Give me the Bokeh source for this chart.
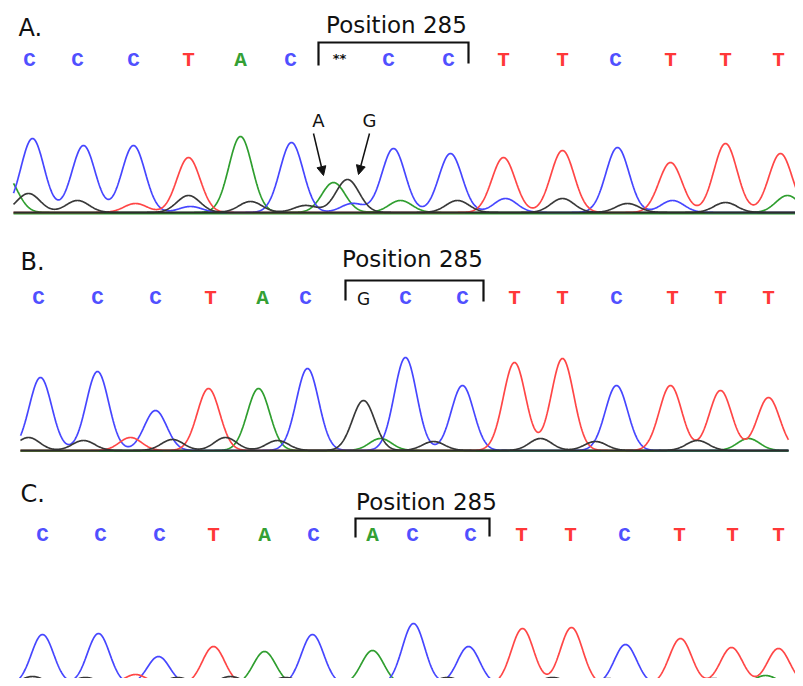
import numpy as np
from bokeh.plotting import figure
from bokeh.layouts import column
from bokeh.models import Range1d, Arrow, NormalHead, ColumnDataSource
from bokeh.core.properties import value
from bokeh.embed import file_html
from bokeh.resources import INLINE

# ---------------- data ----------------
panel_labels = ["A.", "B.", "C."]
region_title = "Position 285"

# base calls (x = scan position)
A_bases = ["C", "C", "C", "T", "A", "C", "**", "C", "C", "T", "T", "C", "T", "T", "T"]
A_base_x = [29, 77, 133, 188, 240, 290, 339, 388, 448, 503, 562, 615, 670, 725, 778]
B_bases = ["C", "C", "C", "T", "A", "C", "G", "C", "C", "T", "T", "C", "T", "T", "T"]
B_base_x = [38, 97, 155, 210, 262, 305, 363, 405, 462, 514, 562, 616, 672, 720, 768]
C_bases = ["C", "C", "C", "T", "A", "C", "A", "C", "C", "T", "T", "C", "T", "T", "T"]
C_base_x = [42, 100, 159, 213, 264, 313, 372, 412, 470, 521, 570, 624, 679, 732, 778]

# bracket around position 285: [left, right]
A_bracket_x = [318, 468]
B_bracket_x = [345, 483]
C_bracket_x = [355, 489]

# trace extent (scan range)
A_scan = [13, 803]
B_scan = [20, 788]
C_scan = [18, 803]

# peaks: centre (scan) and height (signal) per dye channel
A_C_x = [32, 83, 133, 190, 291, 352, 393, 450, 505, 617, 672]
A_C_h = [74, 67, 67, 6, 70, 9, 64, 59, 14, 65, 12]
A_T_x = [135, 188, 503, 562, 670, 725, 780]
A_T_h = [9, 55, 55, 62, 50, 69, 59]
A_A_x = [5, 240, 333, 400, 787]
A_A_h = [37, 76, 30, 12, 17]
A_G_x = [28, 77, 188, 250, 305, 347, 457, 562, 627, 725]
A_G_h = [19, 12, 17, 11, 7, 33, 12, 14, 9, 10]

B_C_x = [40, 97, 155, 307, 405, 462, 616]
B_C_h = [73, 79, 40, 82, 93, 65, 65]
B_T_x = [130, 208, 514, 562, 670, 720, 768]
B_T_h = [13, 62, 88, 92, 65, 60, 53]
B_A_x = [258, 380, 748]
B_A_h = [62, 12, 12]
B_G_x = [28, 83, 172, 225, 277, 363, 433, 540, 595, 697]
B_G_h = [13, 10, 11, 13, 10, 50, 9, 12, 9, 10]

C_C_x = [42, 98, 158, 312, 413, 468, 625]
C_C_h = [50, 51, 28, 50, 61, 38, 40]
C_T_x = [135, 213, 522, 571, 680, 731, 778]
C_T_h = [10, 38, 56, 57, 46, 37, 36]
C_A_x = [264, 372, 765]
C_A_h = [33, 34, 9]
C_G_x = [32, 85, 177, 230, 285, 447, 552, 607, 713]
C_G_h = [8, 7, 7, 8, 7, 7, 7, 6, 6]

# arrows in panel A (allele labels)
arrow_labels = ["A", "G"]
arrow_label_x = [318, 369]
arrow_x0 = [313, 369]
arrow_y0 = [79, 79]
arrow_x1 = [323, 358]
arrow_y1 = [37, 38]

# ---------------- styling ----------------
TRACE = {"C": "#4646ff", "T": "#ff4646", "A": "#2f9e2f", "G": "#383838"}
LETTER = {"C": "#5050ff", "T": "#ff3838", "A": "#34a034", "G": "#111111", "**": "#111111"}
SANS = "DejaVu Sans"
MONO = "Liberation Mono"


def trace(scan, xs, hs, sigma):
    x = np.arange(scan[0], scan[1] + 0.5, 0.5)
    y = np.zeros_like(x, dtype=float)
    for c, h in zip(xs, hs):
        y += h * np.exp(-((x - c) ** 2) / (2 * sigma ** 2))
    return x, y


def make_panel(height, yr, label, label_x, label_y, title_x, title_y, letters_y, bases, base_x,
               bracket_x, br_top, br_bot_l, br_bot_r, scan, peaks, sigma):
    p = figure(width=795, height=height, x_range=Range1d(0, 795), y_range=Range1d(*yr),
               toolbar_location=None, output_backend="svg", min_border=0)
    p.axis.visible = False
    p.grid.visible = False
    p.outline_line_color = None
    p.background_fill_color = "white"

    # green sits just under the overlapping baseline
    p.line([scan[0], scan[1]], [-1.2, -1.2], line_color=TRACE["A"], line_width=1.4)
    for dye in ["A", "C", "T", "G"]:
        xs, hs = peaks[dye]
        x, y = trace(scan, xs, hs, sigma)
        p.line(x, y, line_color=TRACE[dye], line_width=1.7)
    # dark overlapping baseline of the four channels
    p.line([scan[0], scan[1]], [0, 0], line_color="#2c2c2c", line_width=1.8)

    # panel label
    p.text(x=[label_x], y=[label_y], text=[label], text_font=value(SANS), text_font_size="24px",
           text_color="#111111", text_baseline="middle", text_align="left")
    # region title
    p.text(x=[title_x], y=[title_y], text=[region_title], text_font=value(SANS),
           text_font_size="23px", text_color="#111111", text_baseline="middle",
           text_align="center")
    # bracket
    p.line([bracket_x[0], bracket_x[0], bracket_x[1], bracket_x[1]],
           [br_bot_l, br_top, br_top, br_bot_r], line_color="#111111", line_width=2.2,
           line_join="miter")

    # base calls
    normal = [i for i, b in enumerate(bases) if b in ("A", "C", "T")]
    src = ColumnDataSource(dict(x=[base_x[i] for i in normal], y=[letters_y] * len(normal),
                                t=[bases[i] for i in normal],
                                c=[LETTER[bases[i]] for i in normal]))
    p.text(x="x", y="y", text="t", text_color="c", source=src, text_font=value(MONO),
           text_font_style="bold", text_font_size="21px", text_align="center",
           text_baseline="middle")
    for i, b in enumerate(bases):
        if b == "G":
            p.text(x=[base_x[i]], y=[letters_y - 1], text=[b], text_font=value(SANS),
                   text_font_size="17px", text_color=LETTER[b], text_align="center",
                   text_baseline="middle")
        elif b == "**":
            p.text(x=[base_x[i]], y=[letters_y + 2], text=[b], text_font=value(SANS),
                   text_font_size="13px", text_font_style="bold", text_color=LETTER[b],
                   text_align="center", text_baseline="middle")
    return p


pA = make_panel(222, (-10, 212), panel_labels[0], 18, 185, 396, 187.5, 152, A_bases, A_base_x,
                A_bracket_x, 170, 147, 149, A_scan,
                {"C": (A_C_x, A_C_h), "T": (A_T_x, A_T_h), "A": (A_A_x, A_A_h), "G": (A_G_x, A_G_h)},
                11.6)
pB = make_panel(230, (-2, 228), panel_labels[1], 20, 189, 412, 191.5, 152.5, B_bases, B_base_x,
                B_bracket_x, 170, 150, 149, B_scan,
                {"C": (B_C_x, B_C_h), "T": (B_T_x, B_T_h), "A": (B_A_x, B_A_h), "G": (B_G_x, B_G_h)},
                11.2)
pC = make_panel(226, (6, 232), panel_labels[2], 20, 191, 426, 182.5, 149.5, C_bases, C_base_x,
                C_bracket_x, 166, 147, 148, C_scan,
                {"C": (C_C_x, C_C_h), "T": (C_T_x, C_T_h), "A": (C_A_x, C_A_h), "G": (C_G_x, C_G_h)},
                11.2)

# allele arrows in panel A
for lab, lx, x0, y0, x1, y1 in zip(arrow_labels, arrow_label_x, arrow_x0, arrow_y0,
                                   arrow_x1, arrow_y1):
    pA.add_layout(Arrow(end=NormalHead(size=9, fill_color="#111111", line_color="#111111"),
                        x_start=x0, y_start=y0, x_end=x1, y_end=y1,
                        line_color="#111111", line_width=1.5))
    pA.text(x=[lx], y=[y0 + 13.5], text=[lab], text_font=value(SANS),
            text_font_size="18px", text_color="#111111", text_align="center",
            text_baseline="middle")

layout = column(pA, pB, pC, spacing=0)
open("out.html", "w").write(file_html(layout, INLINE))
